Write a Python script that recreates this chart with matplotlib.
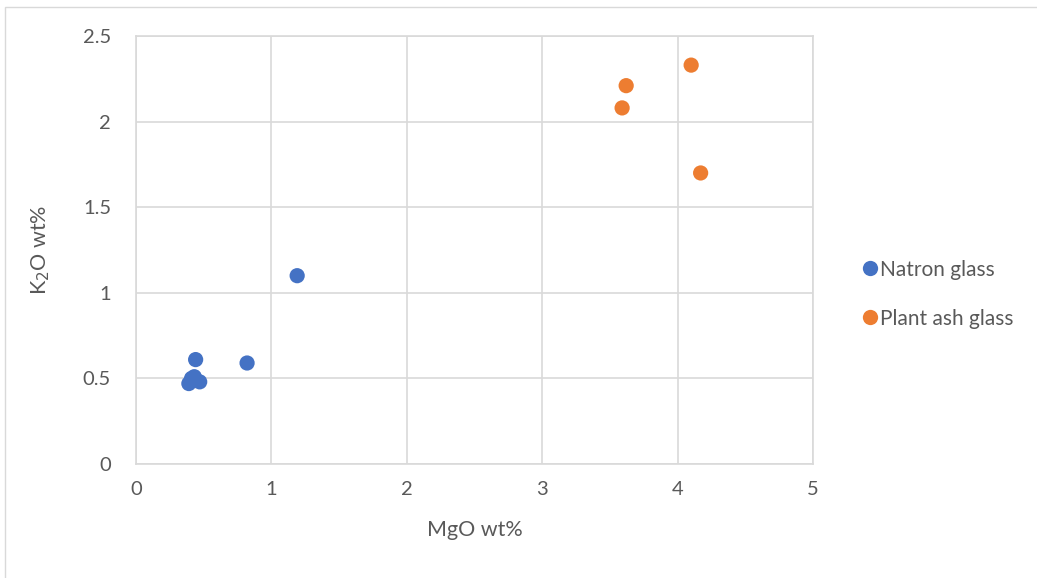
import matplotlib
matplotlib.use("Agg")
import matplotlib.pyplot as plt
from matplotlib.lines import Line2D
from matplotlib.patches import Rectangle

plt.rcParams['font.family'] = ['Lato', 'DejaVu Sans']

# MgO and K2O contents (wt%)
natron_mgo = [0.39, 0.41, 0.43, 0.47, 0.44, 0.82, 1.19]
natron_k2o = [0.47, 0.50, 0.51, 0.48, 0.61, 0.59, 1.10]
plant_mgo = [3.62, 3.59, 4.10, 4.17]
plant_k2o = [2.21, 2.08, 2.33, 1.70]

x_ticks = [0, 1, 2, 3, 4, 5]
y_ticks = [0, 0.5, 1, 1.5, 2, 2.5]
y_tick_labels = ['0', '0.5', '1', '1.5', '2', '2.5']

blue = '#4472C4'
orange = '#ED7D31'
grid = '#D9D9D9'
text = '#595959'

fig = plt.figure(figsize=(10.37, 5.78), dpi=100)
ax = fig.add_axes([0.1312, 0.1972, 0.6528, 0.7405])

# chart frame
fig.patches.append(Rectangle((5 / 1037, -0.01), 1.1, 1 - 7 / 578 + 0.01,
                             transform=fig.transFigure, fill=False,
                             edgecolor=grid, linewidth=1.0))

ax.scatter(natron_mgo, natron_k2o, s=120, color=blue, zorder=3,
           edgecolors='none', label='Natron glass')
ax.scatter(plant_mgo, plant_k2o, s=120, color=orange, zorder=3,
           edgecolors='none', label='Plant ash glass')

ax.set_xlim(0, 5)
ax.set_ylim(0, 2.5)
ax.set_xticks(x_ticks)
ax.set_yticks(y_ticks)
ax.set_yticklabels(y_tick_labels)
ax.grid(True, color=grid, linewidth=1.2)
ax.set_axisbelow(True)
for s in ax.spines.values():
    s.set_color(grid)
    s.set_linewidth(1.2)
ax.tick_params(axis='both', length=0, colors=text, labelsize=14.5)
ax.tick_params(axis='y', pad=18)
ax.tick_params(axis='x', pad=12)

ax.set_xlabel('MgO wt%', fontsize=15.5, color=text, labelpad=16)
ax.set_ylabel('K$_2$O wt%', fontsize=15.5, color=text, labelpad=22)

handles = [
    Line2D([], [], marker='o', linestyle='none', markersize=11,
           markerfacecolor=blue, markeredgecolor='none', label='Natron glass'),
    Line2D([], [], marker='o', linestyle='none', markersize=11,
           markerfacecolor=orange, markeredgecolor='none', label='Plant ash glass'),
]
leg = fig.legend(handles=handles, loc='center left',
                 bbox_to_anchor=(0.8205, 0.491), frameon=False,
                 fontsize=15, handletextpad=0.0, labelspacing=1.4,
                 handlelength=1.0, borderaxespad=0)
for t in leg.get_texts():
    t.set_color(text)

fig.savefig('out.png', dpi=100)
